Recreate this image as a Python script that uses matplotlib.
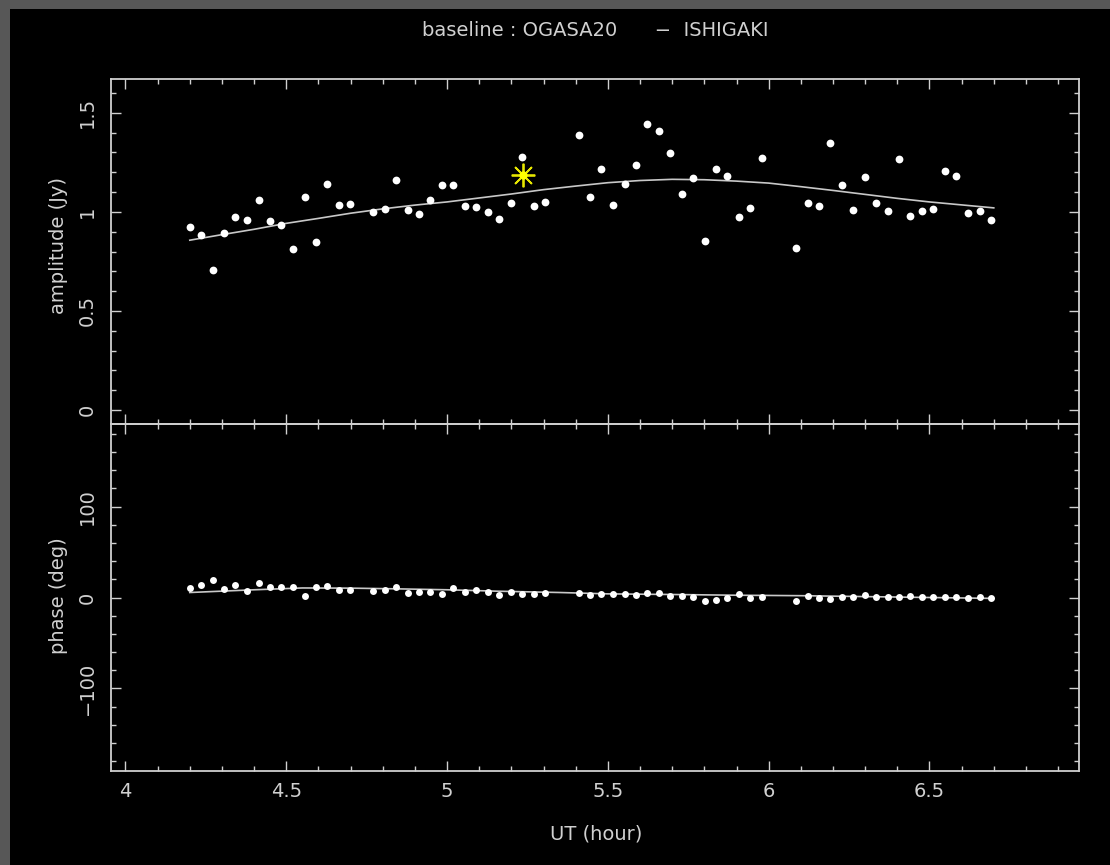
import matplotlib
matplotlib.use("Agg")
import matplotlib.pyplot as plt
from matplotlib.patches import Rectangle
from matplotlib.ticker import MultipleLocator

# Observation times (UT, hours)
ut = [4.200, 4.235, 4.272, 4.307, 4.342, 4.379, 4.414, 4.450, 4.485, 4.521,
      4.557, 4.592, 4.628, 4.664, 4.699, 4.771, 4.806, 4.842, 4.878, 4.913,
      4.948, 4.984, 5.020, 5.056, 5.091, 5.126, 5.162, 5.198, 5.233, 5.269,
      5.304, 5.409, 5.444, 5.480, 5.517, 5.552, 5.587, 5.623, 5.659, 5.694,
      5.730, 5.766, 5.801, 5.837, 5.872, 5.909, 5.943, 5.979, 6.086, 6.121,
      6.157, 6.192, 6.228, 6.263, 6.299, 6.334, 6.370, 6.406, 6.441, 6.477,
      6.512, 6.548, 6.583, 6.620, 6.656, 6.691]

# Visibility amplitude (Jy)
amplitude = [0.924, 0.884, 0.706, 0.894, 0.973, 0.961, 1.062, 0.954, 0.936, 0.815,
             1.073, 0.848, 1.142, 1.033, 1.038, 0.998, 1.015, 1.159, 1.011, 0.988,
             1.062, 1.134, 1.134, 1.030, 1.025, 0.998, 0.966, 1.045, 1.275, 1.028,
             1.052, 1.388, 1.073, 1.215, 1.036, 1.139, 1.236, 1.441, 1.409, 1.297,
             1.089, 1.169, 0.853, 1.218, 1.183, 0.973, 1.020, 1.270, 0.816, 1.043,
             1.031, 1.346, 1.134, 1.011, 1.174, 1.043, 1.005, 1.268, 0.981, 1.003,
             1.015, 1.206, 1.181, 0.993, 1.005, 0.959]

# Visibility phase (deg)
phase = [11.0, 13.6, 19.8, 9.9, 13.6, 7.7, 16.1, 12.1, 12.1, 12.1,
         1.8, 11.7, 12.8, 8.8, 8.0, 7.3, 8.0, 12.1, 5.1, 6.2,
         5.8, 3.6, 10.6, 6.2, 8.0, 6.6, 2.9, 6.6, 4.4, 3.6,
         5.5, 5.0, 2.3, 4.0, 3.7, 4.0, 3.3, 4.8, 5.1, 1.8,
         1.5, 0.7, -3.7, -2.9, -0.4, 3.7, 0.0, 0.4, -4.0, 1.8,
         -1.1, -1.8, 0.4, 1.1, 3.3, 1.1, 1.1, 0.4, 1.8, 0.7,
         0.7, 0.7, 0.4, -0.4, 1.1, -1.1]

# Model curves
amp_model_t = [4.2, 4.3, 4.4, 4.5, 4.6, 4.7, 4.8, 4.9, 5.0, 5.1, 5.2, 5.3, 5.4,
               5.5, 5.6, 5.7, 5.8, 5.9, 6.0, 6.1, 6.2, 6.3, 6.4, 6.5, 6.6, 6.7]
amp_model = [0.857, 0.885, 0.912, 0.942, 0.967, 0.993, 1.015, 1.034, 1.050, 1.070,
             1.090, 1.112, 1.130, 1.147, 1.158, 1.164, 1.162, 1.155, 1.145, 1.127,
             1.108, 1.088, 1.068, 1.050, 1.035, 1.020]
pha_model_t = [4.20, 4.30, 4.40, 4.55, 4.70, 4.85, 5.00, 5.15, 5.35, 5.50,
               5.70, 5.90, 6.10, 6.30, 6.50, 6.70]
pha_model = [5.5, 7.0, 8.5, 10.5, 10.3, 9.5, 8.5, 7.0, 5.5, 4.0,
             3.3, 2.5, 2.0, 1.0, 0.0, -1.0]

# Flagged point
flag_t = [5.235]
flag_amp = [1.186]

amp_ticks = [0, 0.5, 1, 1.5]
amp_ticklabels = ["0", "0.5", "1", "1.5"]
pha_ticks = [-100, 0, 100]
pha_ticklabels = ["\u2212100", "0", "100"]
ut_ticks = [4, 4.5, 5, 5.5, 6, 6.5]
ut_ticklabels = ["4", "4.5", "5", "5.5", "6", "6.5"]

W, H = 1110, 865
FG = "#d0d0d0"
plt.rcParams["font.family"] = ["DejaVu Sans"]

fig = plt.figure(figsize=(W / 100, H / 100), dpi=100, facecolor="#575757")
fig.patches.append(Rectangle((10 / W, 0), 1 - 10 / W, 1 - 9 / H,
                             transform=fig.transFigure, facecolor="black",
                             edgecolor="none", zorder=-10))

left, right = 111 / W, 1079 / W
y_top, y_mid, y_bot = 1 - 79 / H, 1 - 424 / H, 1 - 771 / H
ax1 = fig.add_axes([left, y_mid, right - left, y_top - y_mid])
ax2 = fig.add_axes([left, y_bot, right - left, y_mid - y_bot])

for ax in (ax1, ax2):
    ax.set_facecolor("none")
    for sp in ax.spines.values():
        sp.set_color(FG)
        sp.set_linewidth(1.3)
    ax.set_xlim(3.955, 6.965)
    ax.xaxis.set_minor_locator(MultipleLocator(0.1))
    ax.set_xticks(ut_ticks)
    ax.tick_params(which="both", direction="in", top=True, right=True,
                   colors=FG, width=1.0, labelsize=14, labelcolor=FG)
    ax.tick_params(which="major", length=7.5)
    ax.tick_params(which="minor", length=3.8)
    ax.tick_params(axis="y", pad=10)

# Amplitude panel
ax1.plot(amp_model_t, amp_model, color="#c8c8c8", lw=1.2, zorder=2)
ax1.plot(ut, amplitude, ls="none", marker="o", ms=5.6, mfc="white",
         mec="white", mew=0, zorder=3)
ax1.plot(flag_t, flag_amp, ls="none", marker=(8, 2, 0), ms=17, mec="#e6e600",
         mew=1.3, zorder=4)
ax1.plot(flag_t, flag_amp, ls="none", marker="o", ms=6, mfc="#ffff00",
         mec="#ffff00", mew=0, zorder=5)
ax1.set_ylim(-0.07, 1.67)
ax1.set_yticks(amp_ticks)
ax1.set_yticklabels(amp_ticklabels, rotation=90, va="center", ha="right")
ax1.yaxis.set_minor_locator(MultipleLocator(0.1))
ax1.tick_params(axis="x", labelbottom=False)

# Phase panel
ax2.plot(pha_model_t, pha_model, color="#c8c8c8", lw=1.2, zorder=2)
ax2.plot(ut, phase, ls="none", marker="o", ms=5.0, mfc="white",
         mec="white", mew=0, zorder=3)
ax2.set_ylim(-191, 191)
ax2.set_yticks(pha_ticks)
ax2.set_yticklabels(pha_ticklabels, rotation=90, va="center", ha="right")
ax2.yaxis.set_minor_locator(MultipleLocator(20))
ax2.set_xticklabels(ut_ticklabels)
ax2.tick_params(axis="x", pad=8)

# Labels and title
fig.text(595 / W, 1 - 30 / H, "baseline : OGASA20      \u2212  ISHIGAKI",
         color=FG, fontsize=14, ha="center", va="center")
fig.text(58 / W, 1 - 245 / H, "amplitude (Jy)", color=FG, fontsize=14,
         rotation=90, ha="center", va="center")
fig.text(58 / W, 1 - 596 / H, "phase (deg)", color=FG, fontsize=14,
         rotation=90, ha="center", va="center")
fig.text(596 / W, 1 - 834 / H, "UT (hour)", color=FG, fontsize=14,
         ha="center", va="center")

fig.savefig("out.png", dpi=100, facecolor=fig.get_facecolor())
